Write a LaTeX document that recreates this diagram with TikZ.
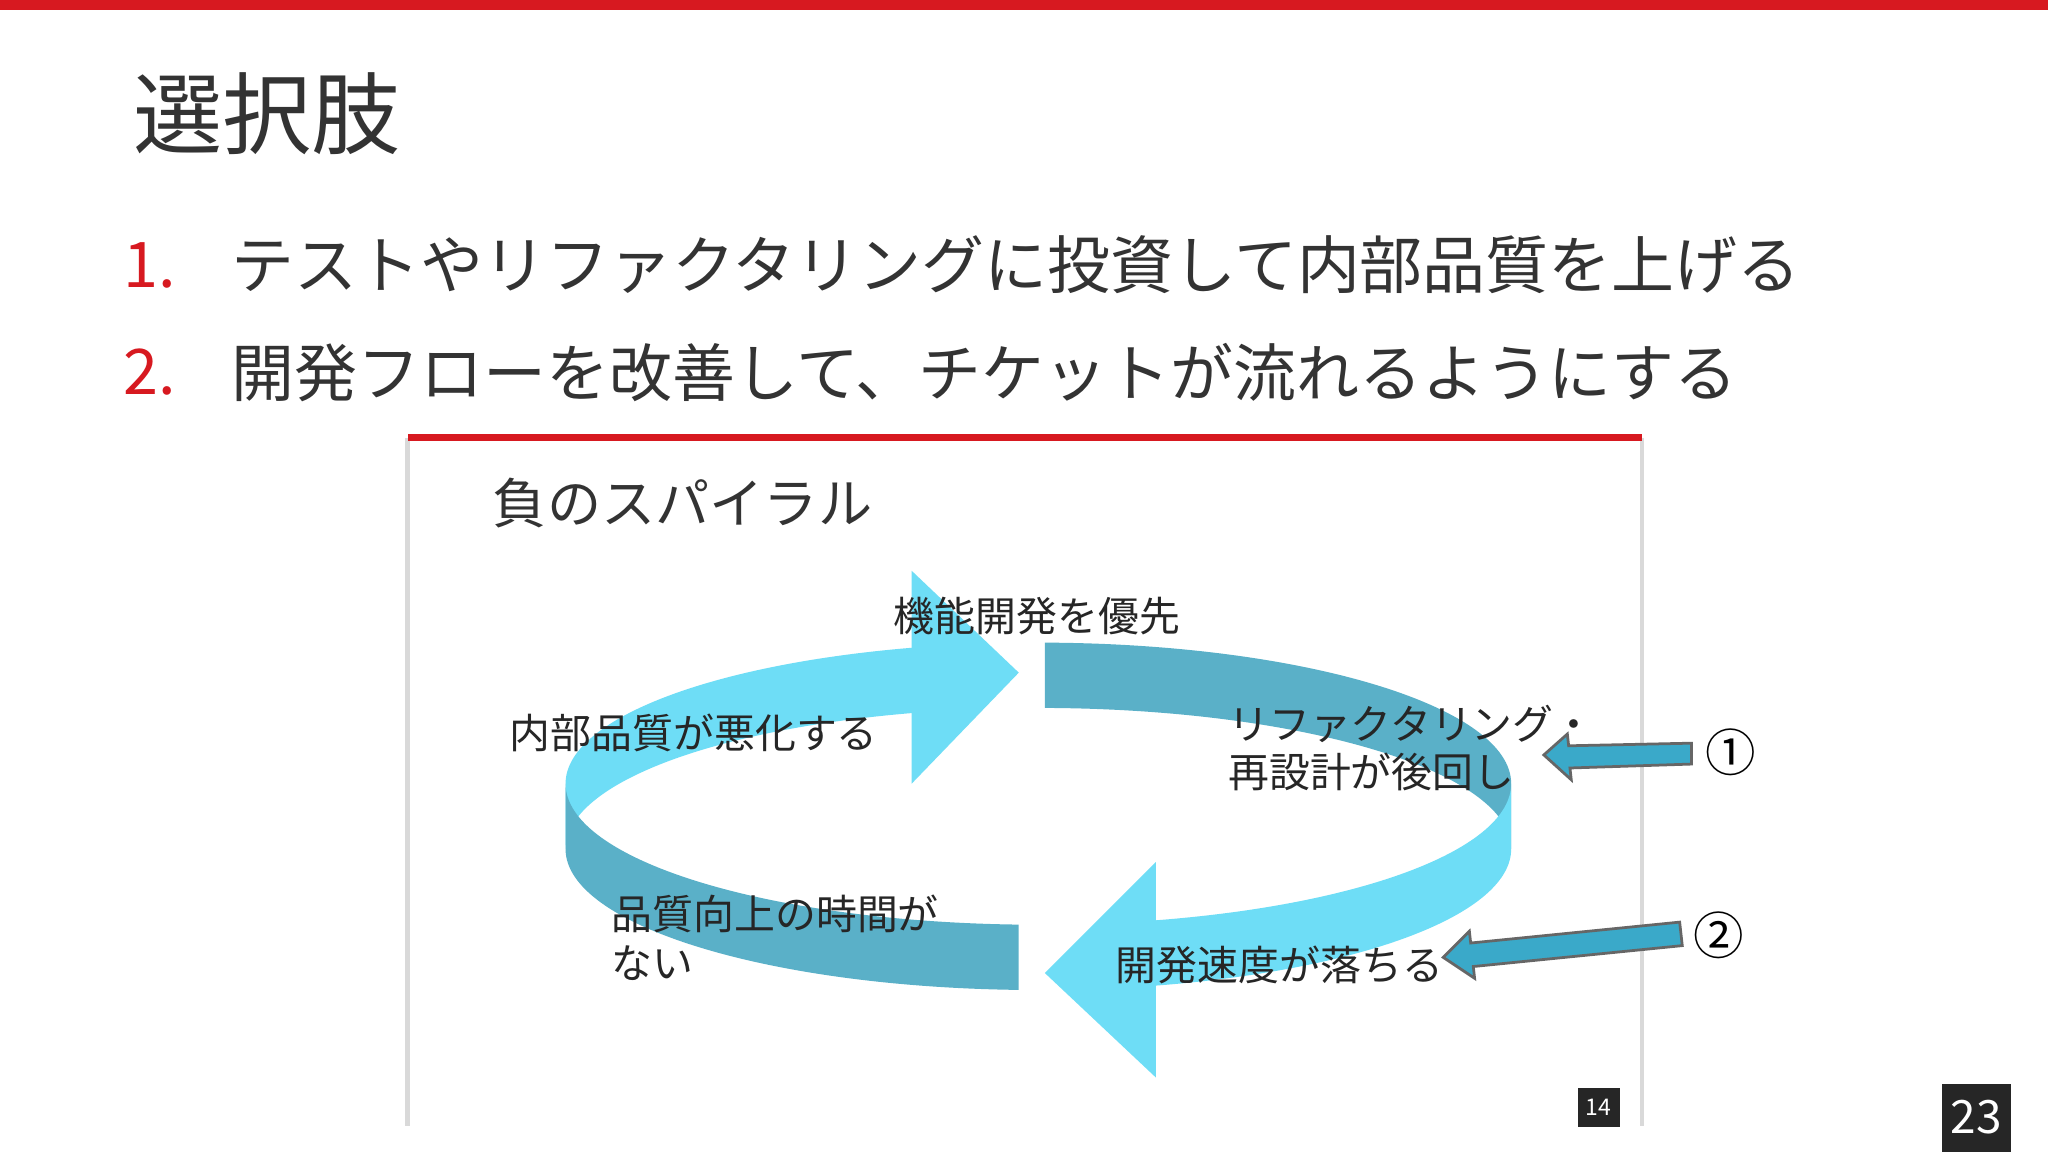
\documentclass[tikz,border=0pt]{standalone}
\usepackage{fontspec}
\setmainfont{Noto Sans CJK JP}
\definecolor{brand}{HTML}{D71920}
\definecolor{lite}{HTML}{6EDDF6}
\definecolor{dark}{HTML}{5AB0C8}
\definecolor{arr}{HTML}{3AA9C9}
\begin{document}
\begin{tikzpicture}[x=0.01cm,y=-0.01cm,
  lbl/.style={anchor=west,font=\fontsize{8.9pt}{10.5pt}\selectfont,align=left,text=black!85},
  item/.style={anchor=west,font=\fontsize{13.7pt}{16pt}\selectfont,text=black!80},
  num/.style={anchor=west,font=\fontsize{13.7pt}{16pt}\selectfont,text=brand}]
\useasboundingbox (0,0) rectangle (1568,882);
\fill[white] (0,0) rectangle (1568,882);
\fill[brand] (0,0) rectangle (1568,8);
\node[anchor=west,font=\fontsize{19.4pt}{22pt}\selectfont,text=black!80] (title) at (90,87) {選択肢};
\node[num] (n1) at (82,203) {1.};
\node[item] (t1) at (165,203) {テストやリファクタリングに投資して内部品質を上げる};
\node[num] (n2) at (82,285) {2.};
\node[item] (t2) at (165,285) {開発フローを改善して、チケットが流れるようにする};
% inner slide
\draw[black!15,line width=1pt] (312,335) -- (312,862) (1257,335) -- (1257,862);
\fill[brand] (312,332) rectangle (1257,338);
\node[anchor=west,font=\fontsize{11.8pt}{14pt}\selectfont,text=black!80] (sub) at (365,385) {負のスパイラル};
% spiral
\def\A{(795,600)}
\def\B{(795,650)}
\fill[lite] ([shift={(795,600)}]180:362 and 108) arc[start angle=180,end angle=254.8,x radius=362,y radius=108]
  -- ([shift={(795,650)}]254.8:362 and 108) arc[start angle=254.8,end angle=180,x radius=362,y radius=108] -- cycle;
\fill[lite] (698,437) -- (780,515) -- (698,600) -- cycle;
\fill[dark] ([shift={(795,650)}]180:362 and 108) arc[start angle=180,end angle=92.4,x radius=362,y radius=108]
  -- ([shift={(795,600)}]92.4:362 and 108) arc[start angle=92.4,end angle=180,x radius=362,y radius=108] -- cycle;
\fill[dark] ([shift={(795,600)}]270.8:362 and 108) arc[start angle=270.8,end angle=360,x radius=362,y radius=108]
  -- ([shift={(795,650)}]0:362 and 108) arc[start angle=360,end angle=270.8,x radius=362,y radius=108] -- cycle;
\fill[lite] ([shift={(795,600)}]0:362 and 108) arc[start angle=0,end angle=75.6,x radius=362,y radius=108]
  -- ([shift={(795,650)}]75.6:362 and 108) arc[start angle=75.6,end angle=0,x radius=362,y radius=108] -- cycle;
\fill[lite] (885,660) -- (800,745) -- (885,825) -- cycle;
\node[lbl] (l1) at (672,472) {機能開発を優先};
\node[lbl] (l2) at (378,561) {内部品質が悪化する};
\node[lbl] (l3) at (928,573) {リファクタリング・\\再設計が後回し};
\node[lbl] (l4) at (456,718) {品質向上の時間が\\ない};
\node[lbl] (l5) at (842,739) {開発速度が落ちる};
% small arrows
\filldraw[fill=arr,draw=black!60,line width=0.6pt] (1295,569) -- (1295,585) -- (1202,588) -- (1203,597) -- (1182,578) -- (1200,562) -- (1201,571) -- cycle;
\filldraw[fill=arr,draw=black!60,line width=0.6pt] (1286,706) -- (1288,724) -- (1128,740) -- (1129,749) -- (1105,733) -- (1125,713) -- (1126,722) -- cycle;
\node[font=\fontsize{11pt}{13pt}\selectfont] (c1) at (1325,576) {①};
\node[font=\fontsize{11pt}{13pt}\selectfont] (c2) at (1316,716) {②};
% page numbers
\fill[black!85] (1208,833) rectangle (1240,863);
\node[text=white,font=\fontsize{5pt}{6pt}\selectfont] (p14) at (1224,848) {14};
\fill[black!85] (1487,830) rectangle (1540,882);
\node[text=white,font=\fontsize{10pt}{12pt}\selectfont] (p23) at (1513,855) {23};
\end{tikzpicture}
\end{document}
